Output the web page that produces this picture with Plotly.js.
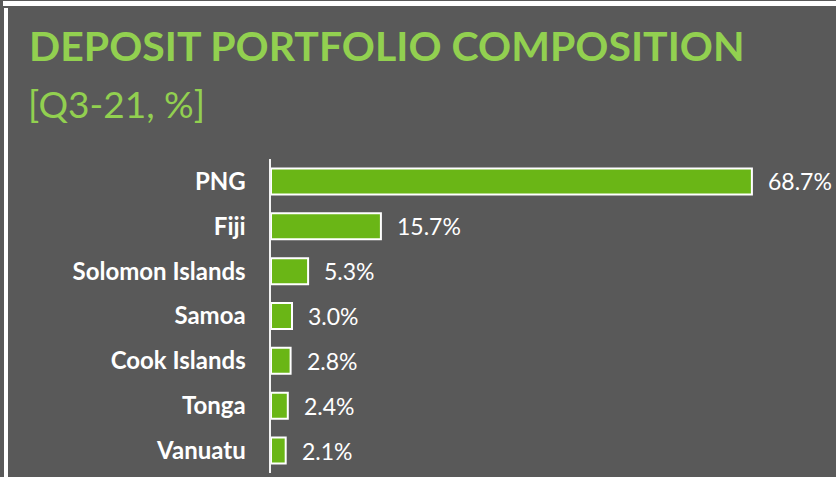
<!DOCTYPE html>
<html>
<head>
<meta charset="utf-8">
<script src="https://cdn.plot.ly/plotly-3.0.1.min.js"></script>
<style>
html,body{margin:0;padding:0;background:#595959;overflow:hidden;}
#wrap{position:relative;width:836px;height:477px;}
#chart{width:836px;height:477px;}
.strip{position:absolute;background:#ffffff;}
</style>
</head>
<body>
<div id="wrap">
<div id="chart"></div>
<div class="strip" style="left:3px;top:1px;width:833px;height:5px;"></div>
<div class="strip" style="left:4px;top:8px;width:4px;height:469px;"></div>
</div>
<script>
const countries = ["PNG", "Fiji", "Solomon Islands", "Samoa", "Cook Islands", "Tonga", "Vanuatu"];
const shares = [68.7, 15.7, 5.3, 3.0, 2.8, 2.4, 2.1];
const valueLabels = ["68.7%", "15.7%", "5.3%", "3.0%", "2.8%", "2.4%", "2.1%"];
const titleText = "DEPOSIT PORTFOLIO COMPOSITION";
const subtitleText = "[Q3-21, %]";

const FONT = "Lato, 'Open Sans', sans-serif";
const GREEN_T = "#92d050";

const trace = {
  type: "bar",
  orientation: "h",
  x: shares,
  y: countries,
  marker: {color: "#6ab616", line: {color: "#ffffff", width: 2}},
  width: 0.58,
  hoverinfo: "none"
};

const annotations = countries.map((c, i) => ({
  x: shares[i], y: c, xref: "x", yref: "y",
  text: valueLabels[i], showarrow: false,
  xanchor: "left", yanchor: "middle", xshift: 14,
  font: {family: FONT, size: 23, color: "#ffffff"}
}));

annotations.push({
  xref: "paper", yref: "paper",
  x: (27 - 271) / 560, y: (473 - 46) / 314,
  xanchor: "left", yanchor: "middle",
  text: "<b>" + titleText + "</b>", showarrow: false,
  font: {family: FONT, size: 41, color: GREEN_T}
});
annotations.push({
  xref: "paper", yref: "paper",
  x: (26 - 271) / 560, y: (473 - 103) / 314,
  xanchor: "left", yanchor: "middle",
  text: subtitleText, showarrow: false,
  font: {family: FONT, size: 37, color: GREEN_T}
});

const layout = {
  width: 836, height: 477,
  paper_bgcolor: "#595959",
  plot_bgcolor: "#595959",
  margin: {l: 271, r: 5, t: 159, b: 4},
  showlegend: false,
  xaxis: {range: [0, 80], visible: false, fixedrange: true},
  yaxis: {
    autorange: "reversed",
    showline: true, linecolor: "#f2f2f2", linewidth: 2.5,
    showgrid: false, zeroline: false, ticks: "",
    ticklabelstandoff: 18,
    tickfont: {family: FONT, size: 24, color: "#ffffff", weight: "bold"}
  },
  annotations: annotations
};

Plotly.newPlot("chart", [trace], layout, {displayModeBar: false, staticPlot: true});
</script>
</body>
</html>
